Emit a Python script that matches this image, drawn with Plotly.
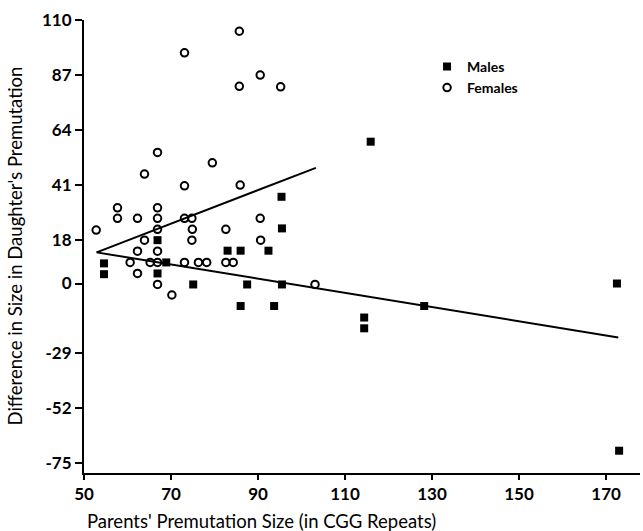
import plotly.graph_objects as go

# Males (filled squares)
male_x = [54.6, 54.6, 66.9, 66.9, 68.9, 75.1, 83.0, 86.0, 87.5, 92.4, 95.4, 95.5, 95.5,
          86.0, 93.7, 114.4, 114.4, 115.9, 128.2, 172.5, 173.0]
male_y = [8.4, 3.9, 18.1, 4.2, 8.8, -0.4, 13.7, 13.7, -0.4, 13.7, 36.2, 23.0, -0.4,
          -9.4, -9.4, -14.2, -18.7, 59.2, -9.4, 0.0, -69.8]

# Females (open circles)
female_x = [52.8, 57.7, 57.7, 62.3, 63.9, 63.9, 62.3, 60.6, 62.3, 65.2,
            66.9, 66.9, 66.9, 66.9, 66.9, 66.9, 66.9, 70.2, 73.1, 73.1,
            73.1, 74.8, 74.9, 74.8, 73.1, 76.3, 78.2, 79.5, 82.6, 82.6,
            84.3, 85.7, 85.7, 85.9, 90.5, 90.5, 90.6, 95.2, 103.1]
female_y = [22.3, 31.6, 27.2, 27.2, 45.7, 18.1, 13.5, 8.8, 4.2, 8.8,
            54.7, 31.6, 27.2, 22.6, 13.5, 8.8, -0.4, -4.8, 96.3, 40.8,
            27.2, 27.2, 22.6, 18.1, 8.8, 8.8, 8.8, 50.4, 22.6, 8.8,
            8.8, 105.3, 82.3, 41.1, 87.0, 27.2, 18.1, 82.1, -0.4]

# Regression lines (end points)
female_fit_x = [52.9, 103.3]
female_fit_y = [13.0, 48.3]
male_fit_x = [52.9, 172.8]
male_fit_y = [13.0, -22.5]

x_ticks = [50, 70, 90, 110, 130, 150, 170]
y_ticks = [-75, -52, -29, 0, 18, 41, 64, 87, 110]

FONT = "Lato"

fig = go.Figure()
fig.add_trace(go.Scatter(x=female_fit_x, y=female_fit_y, mode="lines",
                         line=dict(color="black", width=2), showlegend=False,
                         hoverinfo="skip"))
fig.add_trace(go.Scatter(x=male_fit_x, y=male_fit_y, mode="lines",
                         line=dict(color="black", width=2), showlegend=False,
                         hoverinfo="skip"))
fig.add_trace(go.Scatter(x=male_x, y=male_y, mode="markers", name="Males",
                         marker=dict(symbol="square", size=8, color="black",
                                     line=dict(width=0))))
fig.add_trace(go.Scatter(x=female_x, y=female_y, mode="markers", name="Females",
                         marker=dict(symbol="circle-open", size=7.5, color="black",
                                     line=dict(width=2, color="black"))))

fig.update_layout(
    width=643, height=531,
    margin=dict(l=84, r=3, t=20, b=58),
    paper_bgcolor="white", plot_bgcolor="white",
    font=dict(family=FONT, color="black"),
    legend=dict(x=0.617, y=0.932, xanchor="left", yanchor="top",
                font=dict(size=14, family=FONT, weight="bold"),
                bgcolor="rgba(0,0,0,0)", tracegroupgap=0, itemwidth=30),
    xaxis=dict(range=[50, 177.8], tickvals=x_ticks, ticktext=[str(v) for v in x_ticks],
               showgrid=False, zeroline=False, showline=True, linecolor="black",
               linewidth=2, ticks="outside", ticklen=5, tickwidth=2, tickcolor="black",
               tickfont=dict(size=17, family=FONT, weight="bold")),
    yaxis=dict(range=[-79.1, 110], tickvals=y_ticks, ticktext=[str(v) for v in y_ticks],
               showgrid=False, zeroline=False, showline=True, linecolor="black",
               linewidth=2, ticks="outside", ticklen=7, tickwidth=2, tickcolor="black",
               tickfont=dict(size=17, family=FONT, weight="bold")),
    annotations=[
        dict(text="Parents' Premutation Size (in CGG Repeats)", xref="paper", yref="paper",
             x=(261 - 84) / 556, y=-(521 - 473) / 453, xanchor="center", yanchor="middle",
             showarrow=False, font=dict(size=18.5, family=FONT)),
        dict(text="Difference in Size in Daughter's Premutation", xref="paper", yref="paper",
             x=-(84 - 14) / 556, y=0.5, xanchor="center", yanchor="middle", textangle=-90,
             showarrow=False, font=dict(size=18.5, family=FONT)),
    ],
)

fig.write_html("out.html", config={"displayModeBar": False},
               post_script="document.body.style.margin='0';")
